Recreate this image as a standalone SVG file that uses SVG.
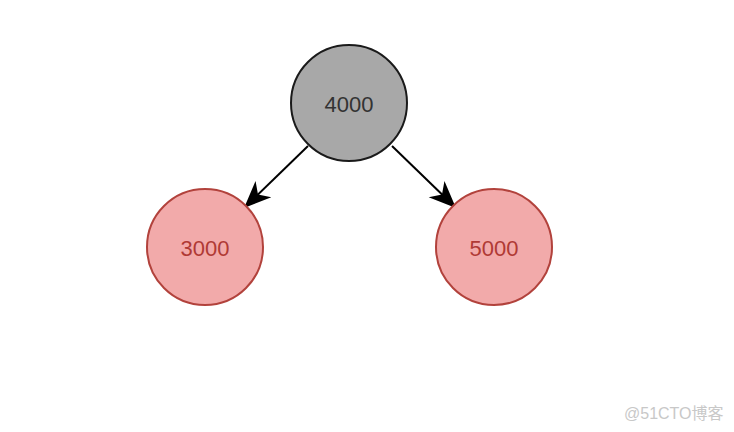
<svg xmlns="http://www.w3.org/2000/svg" width="734" height="432" viewBox="0 0 734 432">
<style>
.n text{font-family:"Liberation Sans",Arial,sans-serif;font-size:22px;text-anchor:middle;dominant-baseline:central}
.gray circle{fill:#a8a8a8;stroke:#1a1a1a;stroke-width:2}
.gray text{fill:#333}
.red circle{fill:#f2aaaa;stroke:#b2423c;stroke-width:2}
.red text{fill:#b03a35}
.edge{stroke:#000;stroke-width:2;fill:none;marker-end:url(#ah)}
.wm{font-family:"Liberation Sans","Noto Sans CJK SC",sans-serif;font-size:16px;fill:#c8c8c8}
</style>
<defs>
<marker id="ah" viewBox="0 0 10 10" refX="9.5" refY="5" markerWidth="27" markerHeight="27" orient="auto" markerUnits="userSpaceOnUse">
<path d="M0,0.8 L10,5 L0,9.2 L2.8,5 z" fill="#000"/>
</marker>
</defs>
<rect width="734" height="432" fill="#fff"/>
<g id="connectors">
<line class="edge" x1="308" y1="146" x2="245" y2="207"/>
<line class="edge" x1="392" y1="146" x2="455" y2="207"/>
</g>
<g id="n4000" class="n gray">
<circle cx="349" cy="103" r="58"/>
<text x="349" y="104">4000</text>
</g>
<g id="n3000" class="n red">
<circle cx="205" cy="247" r="58"/>
<text x="205" y="248">3000</text>
</g>
<g id="n5000" class="n red">
<circle cx="494" cy="247" r="58"/>
<text x="494" y="248">5000</text>
</g>
<text class="wm" x="624" y="419">@51CTO博客</text>
</svg>
